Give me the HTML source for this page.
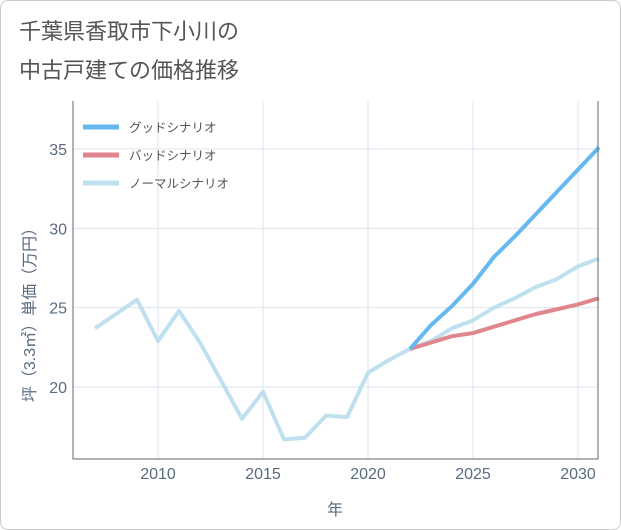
<!DOCTYPE html>
<html><head><meta charset="utf-8"><style>
body{margin:0;background:#fff;font-family:"Liberation Sans","Noto Sans CJK JP",sans-serif;}
#wrap{position:relative;width:619px;height:528px;border:1px solid #ccc;border-radius:8px;overflow:hidden;background:#fff}
</style></head><body>
<div id="wrap">
<svg id="chart" width="621" height="530">
<text x="18" y="38" font-size="22" fill="#555">千葉県香取市下小川の</text>
<text x="18" y="77" font-size="22" fill="#555">中古戸建ての価格推移</text>
<g id="grid"></g><g id="series"></g><g id="axes"></g>
<text transform="translate(34,310) rotate(-90)" text-anchor="middle" font-size="16" fill="#5a6b80">坪（3.3㎡）単価（万円）</text>
<text x="334" y="514" text-anchor="middle" font-size="16" fill="#5a6b80">年</text>
<g id="legend"></g>
</svg></div>
<script>
const years=[2007,2008,2009,2010,2011,2012,2013,2014,2015,2016,2017,2018,2019,2020,2021,2022,2023,2024,2025,2026,2027,2028,2029,2030,2031];
const normal=[23.7,24.6,25.5,22.9,24.8,22.8,20.4,18.0,19.7,16.7,16.8,18.2,18.1,20.9,21.7,22.4,22.9,23.7,24.2,25.0,25.6,26.3,26.8,27.6,28.1];
const fYears=[2022,2023,2024,2025,2026,2027,2028,2029,2030,2031];
const good=[22.4,23.9,25.1,26.5,28.2,29.5,30.9,32.3,33.7,35.1];
const bad=[22.4,22.8,23.2,23.4,23.8,24.2,24.6,24.9,25.2,25.6];
const xTicks=[2010,2015,2020,2025,2030];
const yTicks=[20,25,30,35];
const NS="http://www.w3.org/2000/svg";
const L=72,R=597,T=100,B=458;
const x=v=>157+(v-2010)*21;
const y=v=>386-(v-20)*15.87;
function mk(tag,attrs,parent){const e=document.createElementNS(NS,tag);for(const k in attrs)e.setAttribute(k,attrs[k]);document.getElementById(parent).appendChild(e);return e;}
xTicks.forEach(t=>{
 const g=mk('line',{x1:x(t),x2:x(t),y1:T,y2:B,stroke:'#dde4ec','stroke-width':1},'grid');
 
 
 const tx=mk('text',{x:x(t),y:B+20,'text-anchor':'middle','font-size':16,fill:'#5a6b80'},'axes');tx.textContent=t;
 
 
});
yTicks.forEach(t=>{
 const g=mk('line',{x1:L,x2:R,y1:y(t),y2:y(t),stroke:'#dde4ec','stroke-width':1},'grid');
 
 
 const tx=mk('text',{x:L-6,y:y(t)+6,'text-anchor':'end','font-size':16,fill:'#5a6b80'},'axes');tx.textContent=t;
 
 
});
const ax=mk('path',{d:`M${L},${T}V${B}H${R}V${T}`,fill:'none',stroke:'#666','stroke-width':1},'axes');


function line(xs,vs,color,name){
 const d=vs.map((v,i)=>(i?'L':'M')+x(xs[i])+','+y(v)).join('');
 const p=mk('path',{d,fill:'none',stroke:color,'stroke-width':4,'stroke-linejoin':'round'},'series');
 
 
}
line(years,normal,'#bfe0ee','normal-scenario-line');
line(fYears,bad,'#e0868e','bad-scenario-line');
line(fYears,good,'#66b9f0','good-scenario-line');
const leg=[['グッドシナリオ','#66b9f0'],['バッドシナリオ','#e0868e'],['ノーマルシナリオ','#bfe0ee']];
leg.forEach((l,i)=>{
 const yy=126+i*28;
 const ln=mk('line',{x1:82,x2:118,y1:yy,y2:yy,stroke:l[1],'stroke-width':5},'legend');
 
 
 const t=mk('text',{x:128,y:yy+5,'font-size':12.5,fill:'#555'},'legend');t.textContent=l[0];
 
 
});
</script></body></html>
